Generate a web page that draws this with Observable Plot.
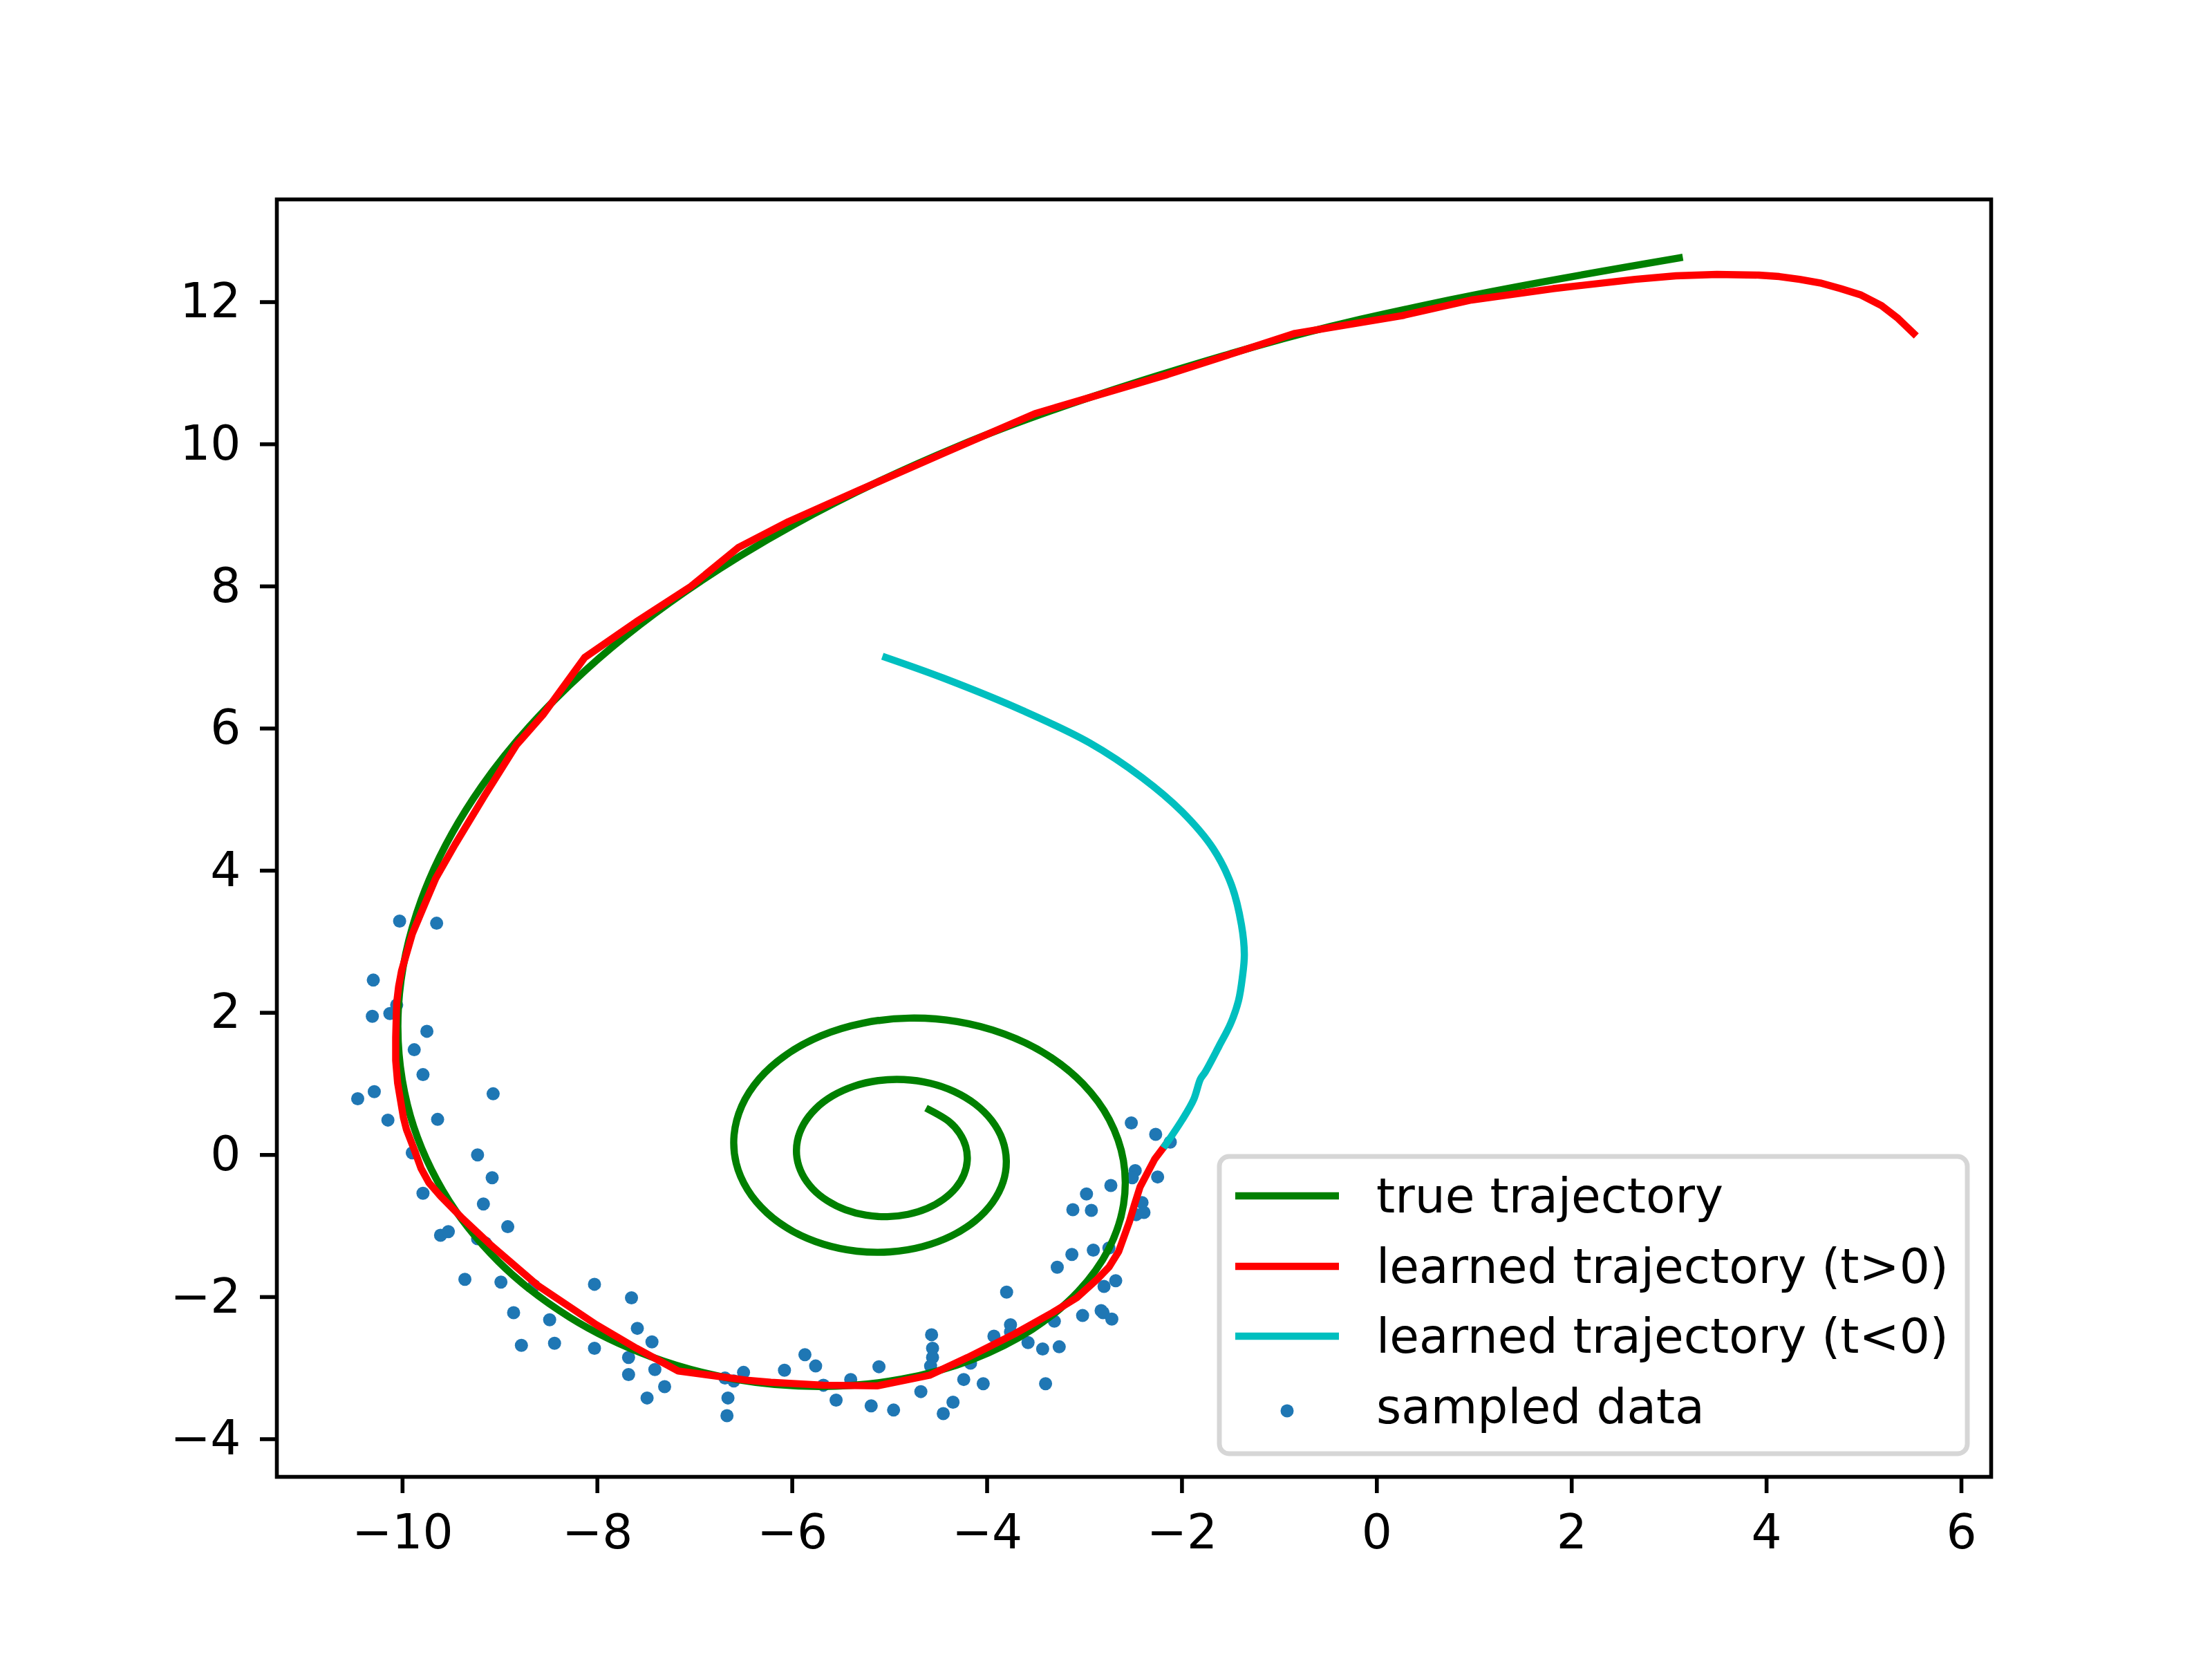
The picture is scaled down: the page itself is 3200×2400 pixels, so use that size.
<!DOCTYPE html>
<html>
<head>
<meta charset="utf-8">
<script src="https://cdn.jsdelivr.net/npm/d3@7"></script>
<script src="https://cdn.jsdelivr.net/npm/@observablehq/plot@0.6"></script>
<style>
  html, body { margin: 0; padding: 0; background: #ffffff; }
  #chart svg { display: block; }
</style>
</head>
<body>
<div id="chart"></div>
<script>
// ---------------- data ----------------
const xTicks = [-10, -8, -6, -4, -2, 0, 2, 4, 6];
const yTicks = [-4, -2, 0, 2, 4, 6, 8, 10, 12];

const seriesLabels = ["true trajectory", "learned trajectory (t>0)", "learned trajectory (t<0)", "sampled data"];
const seriesColors = ["#008000", "#ff0000", "#00bfbf", "#1f77b4"];

// true trajectory (green spiral), from outer end to inner end
const trueX = [3.104, 0.749, -1.216, -4.293, -6.527, -8.121, -9.188, -9.807, -10.042, -9.950,
  -9.588, -9.014, -8.282, -7.451, -6.574, -5.703, -4.881, -4.149, -3.537, -3.067,
  -2.753, -2.600, -2.601, -2.746, -3.016, -3.384, -3.823, -4.307, -4.799, -5.273,
  -5.703, -6.062, -6.339, -6.519, -6.597, -6.575, -6.459, -6.259, -5.995, -5.679,
  -5.339, -4.994, -4.665, -4.370, -4.125, -3.945, -3.836, -3.803, -3.843, -3.953,
  -4.122, -4.339, -4.587, -4.854, -5.119, -5.367, -5.586, -5.760, -5.882, -5.947,
  -5.952, -5.898, -5.791, -5.639, -5.454, -5.243, -5.025, -4.812, -4.617, -4.450,
  -4.320, -4.237, -4.204, -4.219, -4.282, -4.388, -4.595];
const trueY = [12.622, 12.031, 11.388, 9.975, 8.434, 6.820, 5.187, 3.591, 2.082, 0.706,
  -0.499, -1.503, -2.286, -2.838, -3.159, -3.258, -3.156, -2.877, -2.454, -1.924,
  -1.326, -0.699, -0.080, 0.496, 1.000, 1.408, 1.701, 1.876, 1.925, 1.855,
  1.677, 1.409, 1.071, 0.687, 0.282, -0.119, -0.489, -0.816, -1.074, -1.257,
  -1.354, -1.364, -1.291, -1.142, -0.930, -0.671, -0.381, -0.080, 0.215, 0.485,
  0.715, 0.893, 1.010, 1.061, 1.046, 0.967, 0.831, 0.650, 0.435, 0.200,
  -0.040, -0.270, -0.476, -0.646, -0.772, -0.848, -0.869, -0.836, -0.754, -0.626,
  -0.462, -0.274, -0.080, 0.118, 0.304, 0.466, 0.636];

// learned trajectory t>0 (red), from the start point onward
const posX = [-2.17, -2.28, -2.43, -2.49, -2.54, -2.65, -2.75, -2.87, -3.08, -3.33,
  -3.72, -4.20, -4.59, -5.13, -5.68, -6.22, -6.47, -7.17, -7.60, -8.01,
  -8.61, -9.10, -9.38, -9.61, -9.73, -9.81, -9.87, -9.96, -9.99, -10.05,
  -10.07, -10.07, -10.06, -10.04, -10.01, -9.90, -9.83, -9.75, -9.66, -9.46,
  -9.16, -8.83, -8.56, -8.13, -7.58, -7.04, -6.55, -6.04, -5.32, -4.42,
  -3.51, -2.15, -0.84, 0.26, 0.97, 1.81, 2.65, 3.07, 3.49, 3.92,
  4.13, 4.34, 4.55, 4.76, 4.97, 5.18, 5.35, 5.51];
const posY = [0.14, -0.06, -0.45, -0.71, -0.94, -1.36, -1.58, -1.75, -2.01, -2.22,
  -2.52, -2.85, -3.10, -3.25, -3.24, -3.20, -3.17, -3.04, -2.72, -2.39,
  -1.84, -1.26, -0.90, -0.58, -0.39, -0.19, 0.04, 0.36, 0.52, 1.01,
  1.33, 1.65, 2.14, 2.37, 2.59, 3.11, 3.34, 3.60, 3.89, 4.37,
  5.05, 5.77, 6.19, 7.00, 7.52, 8.00, 8.55, 8.91, 9.35, 9.89,
  10.43, 10.98, 11.56, 11.81, 12.03, 12.19, 12.32, 12.37, 12.39, 12.38,
  12.36, 12.32, 12.27, 12.19, 12.10, 11.95, 11.77, 11.56];

// learned trajectory t<0 (cyan), from the start point backward
const negX = [-2.17, -2.00, -1.88, -1.81, -1.76, -1.62, -1.50, -1.42, -1.38, -1.36,
  -1.39, -1.49, -1.68, -2.00, -2.41, -2.95, -3.63, -4.45, -5.04];
const negY = [0.14, 0.49, 0.78, 1.07, 1.17, 1.53, 1.85, 2.17, 2.50, 2.82,
  3.24, 3.79, 4.31, 4.83, 5.31, 5.80, 6.25, 6.71, 7.00];

// sampled data (blue dots)
const sampleX = [-10.03, -9.65, -10.30, -10.06, -10.31, -10.13, -9.75, -9.88, -9.79, -10.29,
  -10.46, -9.07, -10.15, -9.64, -9.90, -9.23, -9.08, -9.79, -9.17, -8.92,
  -9.61, -9.53, -9.23, -9.15, -9.36, -8.99, -8.86, -8.78, -8.44, -8.49,
  -8.03, -8.03, -8.65, -7.65, -7.59, -7.44, -7.68, -7.41, -7.68, -7.31,
  -7.49, -6.69, -6.60, -6.50, -6.66, -6.67, -6.08, -5.87, -5.76, -5.68,
  -5.55, -5.40, -5.11, -5.19, -4.96, -4.68, -4.57, -4.56, -4.56, -4.58,
  -4.45, -4.35, -4.24, -4.17, -4.04, -3.93, -3.80, -3.76, -3.76, -3.58,
  -3.43, -3.40, -3.31, -3.26, -3.28, -3.13, -2.91, -3.02, -2.83, -2.80,
  -2.52, -2.27, -2.12, -2.48, -2.51, -2.25, -2.73, -2.98, -3.12, -2.93,
  -2.41, -2.47, -2.39, -2.75, -2.68, -2.81, -2.72];
const sampleY = [3.29, 3.26, 2.46, 2.11, 1.95, 1.99, 1.74, 1.48, 1.13, 0.89,
  0.79, 0.86, 0.49, 0.50, 0.03, 0.00, -0.32, -0.54, -0.69, -1.01,
  -1.13, -1.08, -1.18, -1.24, -1.75, -1.79, -2.22, -2.68, -2.65, -2.32,
  -1.82, -2.72, -1.84, -2.01, -2.44, -2.63, -2.85, -3.02, -3.09, -3.26,
  -3.42, -3.14, -3.18, -3.06, -3.42, -3.67, -3.03, -2.81, -2.97, -3.24,
  -3.45, -3.16, -2.98, -3.53, -3.59, -3.33, -2.53, -2.72, -2.85, -2.97,
  -3.64, -3.48, -3.16, -2.93, -3.22, -2.55, -1.93, -2.39, -2.49, -2.64,
  -2.73, -3.22, -2.34, -2.70, -1.58, -1.40, -1.34, -2.26, -2.19, -1.85,
  0.45, 0.29, 0.18, -0.22, -0.32, -0.31, -0.43, -0.55, -0.77, -0.78,
  -0.67, -0.84, -0.81, -1.31, -1.77, -2.22, -2.31];

// ---------------- build ----------------
const rows = (xs, ys) => xs.map((x, i) => ({x, y: ys[i]}));
const trueRows = rows(trueX, trueY);
const posRows = rows(posX, posY);
const negRows = rows(negX, negY);
const sampleRows = rows(sampleX, sampleY);

const FS = 69.4;      // 10pt at 500 dpi
const LW = 10.4;      // 1.5pt line
const SPINE = 5.6;    // 0.8pt
const fmt = d3.format("d");

const svg = Plot.plot({
  width: 3200,
  height: 2400,
  marginLeft: 400,
  marginRight: 320,
  marginTop: 288,
  marginBottom: 264,
  style: {fontFamily: "DejaVu Sans", fontSize: FS + "px", color: "black", background: "white", overflow: "visible"},
  x: {domain: [-11.29, 6.305]},
  y: {domain: [-4.53, 13.445]},
  marks: [
    Plot.dot(sampleRows, {x: "x", y: "y", r: 9.5, fill: seriesColors[3]}),
    Plot.line(trueRows, {x: "x", y: "y", stroke: seriesColors[0], strokeWidth: LW, curve: "catmull-rom", strokeLinecap: "square", strokeLinejoin: "round"}),
    Plot.line(posRows, {x: "x", y: "y", stroke: seriesColors[1], strokeWidth: LW, curve: "linear", strokeLinecap: "square", strokeLinejoin: "round"}),
    Plot.line(negRows, {x: "x", y: "y", stroke: seriesColors[2], strokeWidth: LW, curve: "catmull-rom", strokeLinecap: "square", strokeLinejoin: "round"}),
    Plot.frame({stroke: "black", strokeWidth: SPINE}),
    Plot.axisX({ticks: xTicks, tickFormat: fmt, tickSize: 24, tickPadding: 30, strokeWidth: SPINE, fontSize: FS, label: null}),
    Plot.axisY({ticks: yTicks, tickFormat: fmt, tickSize: 24, tickPadding: 28, strokeWidth: SPINE, fontSize: FS, label: null})
  ]
});

// ---------------- legend (inside the axes, lower right) ----------------
const lg = d3.select(svg).append("g")
  .attr("font-family", "DejaVu Sans")
  .attr("font-size", FS)
  .attr("text-anchor", "start");
lg.append("rect")
  .attr("x", 1764).attr("y", 1673).attr("width", 1082).attr("height", 430)
  .attr("rx", 14).attr("ry", 14)
  .attr("fill", "white").attr("fill-opacity", 0.8)
  .attr("stroke", "#cccccc").attr("stroke-opacity", 0.8).attr("stroke-width", 6.9);
const rowY = [1730, 1832, 1933, 2035];
seriesLabels.forEach((label, i) => {
  if (i < 3) {
    lg.append("line")
      .attr("x1", 1787).attr("x2", 1937).attr("y1", rowY[i]).attr("y2", rowY[i])
      .attr("stroke", seriesColors[i]).attr("stroke-width", LW);
  } else {
    lg.append("circle").attr("cx", 1862).attr("cy", rowY[i] + 6).attr("r", 9.5).attr("fill", seriesColors[i]);
  }
  lg.append("text")
    .attr("x", 1991).attr("y", rowY[i] + 24)
    .attr("fill", "black")
    .attr("text-anchor", "start")
    .text(label);
});

document.getElementById("chart").appendChild(svg);
</script>
</body>
</html>
